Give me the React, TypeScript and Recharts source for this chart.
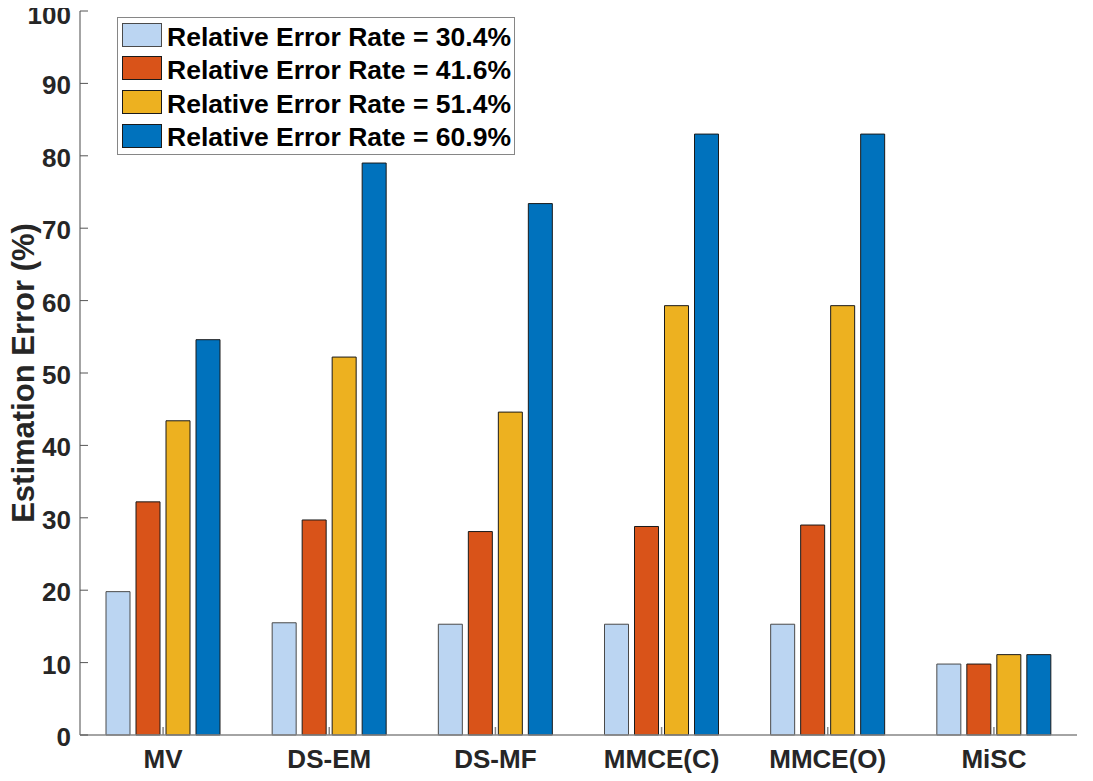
import React from "react";
import { BarChart, Bar, XAxis, YAxis, Legend } from "recharts";

const methods = ["MV", "DS-EM", "DS-MF", "MMCE(C)", "MMCE(O)", "MiSC"];
const rate304 = [19.8, 15.5, 15.3, 15.3, 15.3, 9.8];
const rate416 = [32.2, 29.7, 28.1, 28.8, 29.0, 9.8];
const rate514 = [43.4, 52.2, 44.6, 59.3, 59.3, 11.1];
const rate609 = [54.6, 79.0, 73.4, 83.0, 83.0, 11.1];
const yTicks = [0, 10, 20, 30, 40, 50, 60, 70, 80, 90, 100];

const series = [
  { key: "r304", name: "Relative Error Rate = 30.4%", values: rate304, fill: "#bbd5f2", stroke: "#4a4a4a" },
  { key: "r416", name: "Relative Error Rate = 41.6%", values: rate416, fill: "#d95319", stroke: "#1a1a1a" },
  { key: "r514", name: "Relative Error Rate = 51.4%", values: rate514, fill: "#edb120", stroke: "#1a1a1a" },
  { key: "r609", name: "Relative Error Rate = 60.9%", values: rate609, fill: "#0072bd", stroke: "#1a1a1a" },
];

const data = methods.map((name, i) => {
  const row: Record<string, string | number> = { name };
  series.forEach((s) => {
    row[s.key] = s.values[i];
  });
  return row;
});

const FONT = "'Liberation Sans', Arial, Helvetica, sans-serif";
const AXIS = "#868686";
const xTickStyle = { fill: "#262626", fontSize: 26, fontWeight: 700, fontFamily: FONT };

// y tick labels sit a little below the tick; the top one is nudged so it stays on the page
const YTick = (props: any) => {
  const { x, y, payload } = props;
  const top = payload.value === yTicks[yTicks.length - 1];
  return (
    <text
      x={x}
      y={y}
      dy={top ? 13 : 11}
      textAnchor="end"
      fill="#262626"
      fontSize={26}
      fontWeight={700}
      fontFamily={FONT}
    >
      {payload.value}
    </text>
  );
};

const LegendBox = () => (
  <div
    style={{
      width: 398,
      height: 138,
      boxSizing: "border-box",
      border: `1.5px solid ${AXIS}`,
      background: "#fff",
      fontFamily: FONT,
    }}
  >
    {series.map((s) => (
      <div key={s.key} style={{ display: "flex", alignItems: "center", height: 33.6 }}>
        <div
          style={{
            width: 40,
            height: 24,
            marginLeft: 4,
            boxSizing: "border-box",
            background: s.fill,
            border: `1px solid ${s.stroke}`,
          }}
        />
        <span
          style={{
            marginLeft: 5,
            fontSize: 26.5,
            fontWeight: 700,
            lineHeight: 1,
            color: "#000",
            position: "relative",
            top: 2,
            whiteSpace: "nowrap",
          }}
        >
          {s.name}
        </span>
      </div>
    ))}
  </div>
);

const YLabel = (props: any) => {
  const vb = props.viewBox || {};
  const cx = vb.x + 23;
  const cy = vb.y + vb.height / 2;
  return (
    <text
      x={cx}
      y={cy}
      transform={`rotate(-90, ${cx}, ${cy})`}
      textAnchor="middle"
      dominantBaseline="central"
      fill="#262626"
      fontSize={31}
      fontWeight={700}
      fontFamily={FONT}
    >
      Estimation Error (%)
    </text>
  );
};

export default function App() {
  return (
    <div style={{ width: 1093, height: 781, margin: -8, background: "#fff" }}>
      <BarChart
        width={1093}
        height={781}
        data={data}
        margin={{ top: 11, right: 16, bottom: 0, left: 0 }}
        barSize={24}
        barGap={6}
      >
        <XAxis
          dataKey="name"
          height={46}
          interval={0}
          tickSize={-8}
          tickMargin={23}
          tick={xTickStyle}
          axisLine={{ stroke: AXIS, strokeWidth: 1.5 }}
          tickLine={{ stroke: AXIS, strokeWidth: 1.5 }}
        />
        <XAxis
          xAxisId="top"
          dataKey="name"
          orientation="top"
          height={0}
          interval={0}
          tickSize={-8}
          tick={false}
          axisLine={{ stroke: AXIS, strokeWidth: 1.5 }}
          tickLine={{ stroke: AXIS, strokeWidth: 1.5 }}
        />
        <YAxis
          type="number"
          domain={[0, 100]}
          ticks={yTicks}
          width={80}
          interval={0}
          tickSize={-8}
          tickMargin={17}
          tick={<YTick />}
          axisLine={{ stroke: AXIS, strokeWidth: 1.5 }}
          tickLine={{ stroke: "#555", strokeWidth: 1 }}
          label={{ content: YLabel }}
        />
        <YAxis
          yAxisId="right"
          orientation="right"
          type="number"
          domain={[0, 100]}
          ticks={yTicks}
          width={0}
          interval={0}
          tickSize={-8}
          tick={false}
          axisLine={{ stroke: AXIS, strokeWidth: 1.5 }}
          tickLine={{ stroke: "#555", strokeWidth: 1 }}
        />
        <Legend
          layout="horizontal"
          align="center"
          verticalAlign="middle"
          content={() => <LegendBox />}
          wrapperStyle={{ left: 117, top: 17, width: 398, height: 138 }}
        />
        {series.map((s) => (
          <Bar
            key={s.key}
            dataKey={s.key}
            name={s.name}
            fill={s.fill}
            stroke={s.stroke}
            strokeWidth={1}
            isAnimationActive={false}
          />
        ))}
      </BarChart>
    </div>
  );
}
